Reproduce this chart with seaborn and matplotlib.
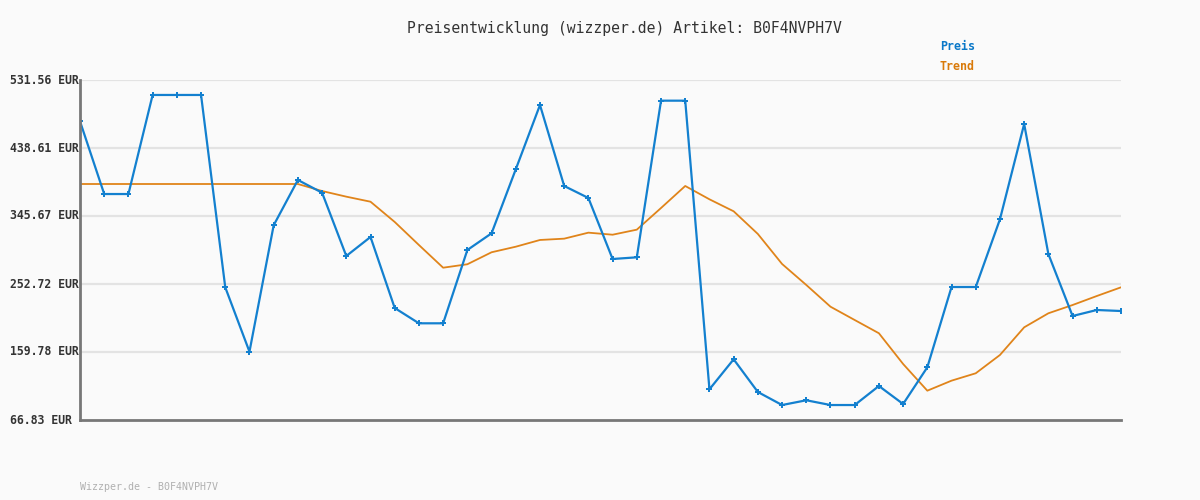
import matplotlib
matplotlib.use("Agg")
import matplotlib.pyplot as plt
import seaborn as sns
import pandas as pd
import numpy as np

title = "Preisentwicklung (wizzper.de) Artikel: B0F4NVPH7V"
footer = "Wizzper.de - B0F4NVPH7V"
series_names = ["Preis", "Trend"]
y_ticks = [66.83, 159.78, 252.72, 345.67, 438.61, 531.56]
y_tick_labels = ["66.83 EUR", "159.78 EUR", "252.72 EUR", "345.67 EUR", "438.61 EUR", "531.56 EUR"]

preis = [475.1, 375.7, 375.7, 511.1, 511.1, 511.1, 248.2, 160.2, 333.0, 394.9,
         377.5, 291.0, 317.0, 219.9, 199.0, 199.0, 299.2, 322.0, 409.5, 497.4,
         386.7, 370.3, 286.9, 289.2, 503.3, 503.3, 108.8, 149.8, 105.1, 87.3,
         93.8, 87.3, 87.3, 113.3, 88.7, 138.9, 248.6, 248.6, 341.2, 471.4,
         293.7, 209.0, 217.2, 215.8]
trend = [389.4, 389.4, 389.4, 389.4, 389.4, 389.4, 389.4, 389.4, 389.4, 389.4,
         379.8, 372.1, 365.2, 337.5, 306.0, 275.0, 279.7, 296.1, 303.7, 312.9,
         314.7, 322.9, 320.1, 327.0, 356.6, 386.7, 368.5, 352.1, 321.1, 280.1,
         251.4, 221.7, 203.5, 185.4, 143.4, 106.9, 120.6, 130.7, 155.7, 193.5,
         212.7, 224.0, 236.3, 248.2]

blue = "#1380cf"
orange = "#e0841a"
bg = "#fafafa"

idx = np.arange(len(preis))
df = pd.DataFrame({"idx": np.concatenate([idx, idx]),
                   "value": preis + trend,
                   "series": [series_names[0]] * len(preis) + [series_names[1]] * len(trend)})

sns.set_style("white")
fig = plt.figure(figsize=(12, 5), dpi=100, facecolor=bg)
ax = fig.add_axes([80 / 1200, 80 / 500, 1041 / 1200, 340 / 500])
ax.set_facecolor(bg)

sns.lineplot(data=df[df.series == "Trend"], x="idx", y="value", color=orange,
             linewidth=1.3, ax=ax, legend=False, zorder=3)
sns.lineplot(data=df[df.series == "Preis"], x="idx", y="value", color=blue,
             linewidth=1.6, marker="P", markersize=4, markeredgewidth=0,
             ax=ax, legend=False, zorder=4)

ax.set_xlim(0, len(preis) - 1)
ax.set_ylim(y_ticks[0], y_ticks[-1])
ax.set_yticks(y_ticks)
ax.set_yticklabels([])
ax.set_xticks([])
ax.set_xlabel("")
ax.set_ylabel("")
ax.tick_params(left=False, bottom=False)
for y in y_ticks[1:]:
    ax.axhline(y, color="#e3e3e3", linewidth=1.6, zorder=1)

for s in ["top", "right"]:
    ax.spines[s].set_visible(False)
for s in ["left", "bottom"]:
    ax.spines[s].set_color("#777777")
    ax.spines[s].set_linewidth(2.0)
    ax.spines[s].set_zorder(5)

mono = "DejaVu Sans Mono"
for v, lab in zip(y_ticks, y_tick_labels):
    yy = ax.transData.transform((0, v))[1]
    fig.text(10 / 1200, yy / 500, lab, ha="left", va="center", family=mono,
             fontsize=8.3, fontweight="bold", color="#333333")

fig.text(624 / 1200, 1 - 28 / 500, title, ha="center", va="center", family=mono,
         fontsize=10.6, color="#333333")
fig.text(940 / 1200, 1 - 47 / 500, series_names[0], ha="left", va="center", family=mono,
         fontsize=8.4, fontweight="bold", color="#0a78c8")
fig.text(940 / 1200, 1 - 67 / 500, series_names[1], ha="left", va="center", family=mono,
         fontsize=8.4, fontweight="bold", color="#d97a0a")
fig.text(80 / 1200, 1 - 487 / 500, footer, ha="left", va="center", family=mono,
         fontsize=7.2, color="#b0b0b0")

fig.savefig("out.png", dpi=100, facecolor=bg)
